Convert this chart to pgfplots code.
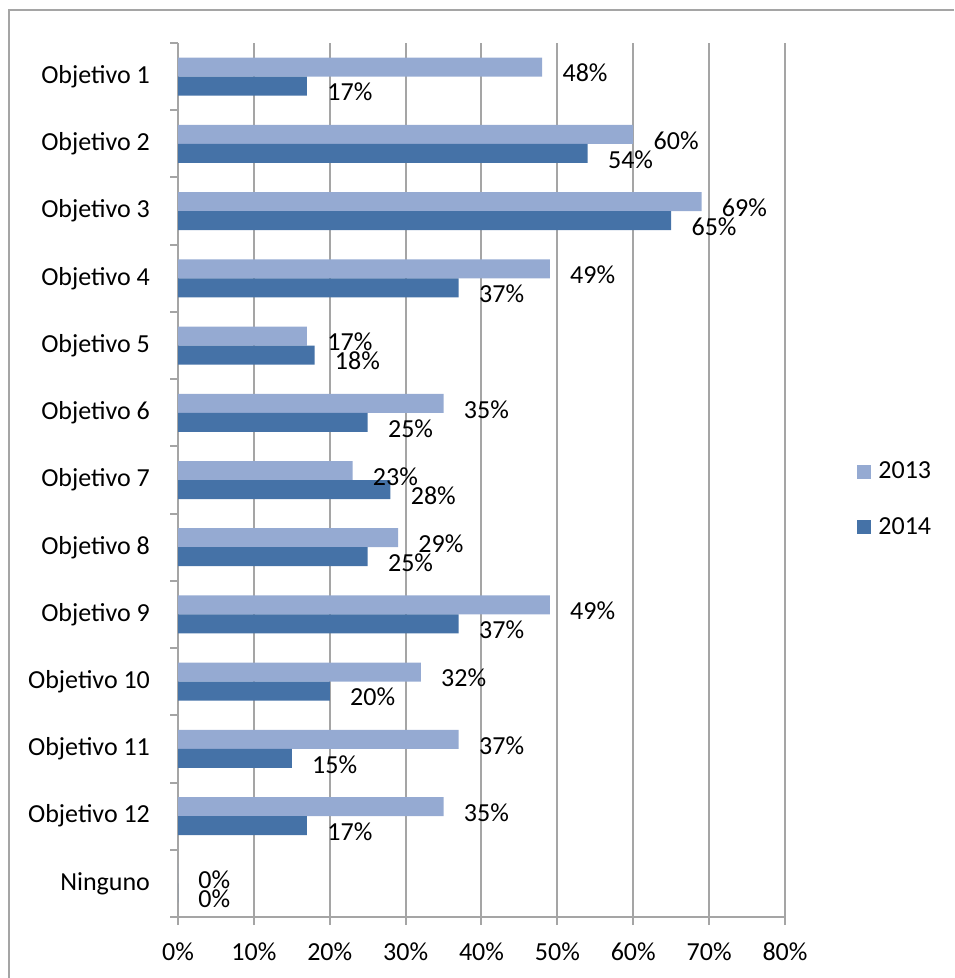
\documentclass[border=0pt]{standalone}
\usepackage{pgfplots}
\pgfplotsset{compat=1.18}
\usepackage{pgfplotstable}
\usepackage{fontspec}
\setmainfont{Carlito}
\definecolor{c2013}{RGB}{149,170,210}
\definecolor{c2014}{RGB}{69,114,167}
\definecolor{gridgray}{RGB}{165,165,165}

\pgfplotstableread{
y v2013 v2014
12 48 17
11 60 54
10 69 65
9 49 37
8 17 18
7 35 25
6 23 28
5 29 25
4 49 37
3 32 20
2 37 15
1 35 17
0 0 0
}\data

\begin{document}
\begin{tikzpicture}
\useasboundingbox (0,0) rectangle (477pt,-489pt);
\draw[gridgray, line width=1pt] (4.65pt,-489pt) -- (4.65pt,-5pt) -- (477pt,-5pt);
\begin{axis}[
  at={(89pt,-458.5pt)}, anchor=south west,
  scale only axis, width=303.5pt, height=437pt,
  xbar, bar width=9.5pt,
  legend image code/.code={\fill[#1] (0pt,-3.5pt) rectangle (7pt,3.5pt);},
  /pgf/number format/assume math mode=true,
  xmin=0, xmax=80, ymin=-0.5, ymax=12.5,
  axis x line*=bottom, axis y line*=left,
  axis line style={gridgray, line width=1pt, -},
  xtick={0,10,...,80},
  xticklabels={0\%,10\%,20\%,30\%,40\%,50\%,60\%,70\%,80\%},
  ytick={0,...,12},
  yticklabels={Ninguno,Objetivo 12,Objetivo 11,Objetivo 10,Objetivo 9,Objetivo 8,Objetivo 7,Objetivo 6,Objetivo 5,Objetivo 4,Objetivo 3,Objetivo 2,Objetivo 1},
  minor ytick={-0.5,0.5,...,12.5},
  xmajorgrids, major grid style={gridgray, line width=1pt},
  tick align=outside, major tick length=4pt, minor tick length=4pt,
  tick style={gridgray, line width=1pt},
  major y tick style={draw=none},
  tick label style={font=\fontsize{13}{15.5}\selectfont, text=black},
  xticklabel style={yshift=-5.5pt},
  yticklabel style={xshift=-6.5pt},
  nodes near coords={\pgfmathprintnumber{\pgfplotspointmeta}\%},
  nodes near coords style={font=\fontsize{13}{15.5}\selectfont, anchor=west, inner sep=0pt, xshift=10pt, yshift=-3pt, text=black},
  legend style={at={(1.1186,0.4777)}, anchor=west, draw=none, fill=none, inner sep=0pt, row sep=18pt, column sep=3.5pt, font=\fontsize{13}{15.5}\selectfont, nodes={inner sep=0pt}},
  legend cell align=left,
  clip=false,
]
\addplot[fill=c2013, draw=none, bar shift=4.75pt] table[x=v2013, y=y] {\data};
\addplot[fill=c2014, draw=none, bar shift=-4.75pt] table[x=v2014, y=y] {\data};
\legend{2013,2014}
\end{axis}
\end{tikzpicture}
\end{document}
